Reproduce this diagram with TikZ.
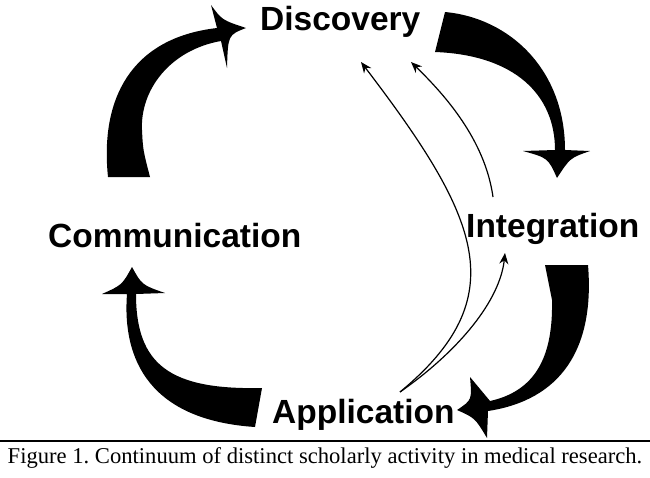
\documentclass[tikz,border=0pt]{standalone}
\usepackage{fontspec}
\setmainfont{Liberation Serif}
\newfontfamily\headfont{Liberation Sans}
\usetikzlibrary{arrows.meta}
\frenchspacing

\begin{document}
\begin{tikzpicture}[x=1pt,y=-1pt]
  \tikzstyle{stage} = [inner sep=0pt, anchor=base west, font=\headfont\bfseries\fontsize{33.5}{40}\selectfont]
  \tikzstyle{fat} = [fill=black]
  \tikzstyle{thinarr} = [-{Stealth[length=11pt,width=9pt]}, line width=1.2pt]
  \useasboundingbox (0,0) rectangle (650,477);

  \draw (260,30) node[stage] (dis) {Discovery};
  \draw (466,237) node[stage] (int) {Integration};
  \draw (48,247) node[stage] (com) {Communication};
  \draw (272,423) node[stage] (app) {Application};

  % ends of the thin arrows
  \coordinate (dis1) at (361,62);
  \coordinate (dis2) at (411,62);
  \coordinate (int1) at (505,253);
  \coordinate (intsrc) at (493,197);
  \coordinate (appsrc) at (400,392);

  % communication -> discovery
  \fill[fat] (108,177) .. controls (100,100) and (130,38) .. (217,28)
    -- (211,5) .. controls (222,20) .. (246,28) .. controls (228,35) .. (227,68) -- (221,41)
    .. controls (170,50) and (140,90) .. (142,130) .. controls (143,150) .. (150,177) -- cycle;
  % discovery -> integration
  \fill[fat] (445,12) .. controls (510,18) and (565,70) .. (565,150)
    -- (590,151) .. controls (570,158) .. (557,178) .. controls (548,158) .. (523,151) -- (555,150)
    .. controls (555,95) and (515,55) .. (435,52) -- cycle;
  % integration -> application
  \fill[fat] (588,265) .. controls (595,350) and (560,400) .. (488,411)
    -- (487,438) .. controls (475,418) .. (457,410) .. controls (472,400) .. (470,377) -- (490,401)
    .. controls (540,390) and (553,350) .. (552,300) -- (545,265) -- cycle;
  % application -> communication
  \fill[fat] (255,427) .. controls (150,420) and (122,360) .. (127,294)
    -- (102,294) .. controls (122,285) .. (132,267) .. controls (142,285) .. (165,293) -- (136,294)
    .. controls (136,365) and (170,390) .. (262,388) -- cycle;

  \draw [thinarr] (appsrc) .. controls (515,297) and (480,218) .. (dis1);
  \draw [thinarr] (appsrc) .. controls (460,350) and (500,300) .. (int1);
  \draw [thinarr] (intsrc) .. controls (485,140) and (445,95) .. (dis2);

  \draw[line width=2.5pt] (0,441) -- (650,441);
  \draw (325,463) node[anchor=base, inner sep=0pt, font=\fontsize{22.6}{26}\selectfont] (cap)
    {Figure 1. Continuum of distinct scholarly activity in medical research.};
\end{tikzpicture}
\end{document}
